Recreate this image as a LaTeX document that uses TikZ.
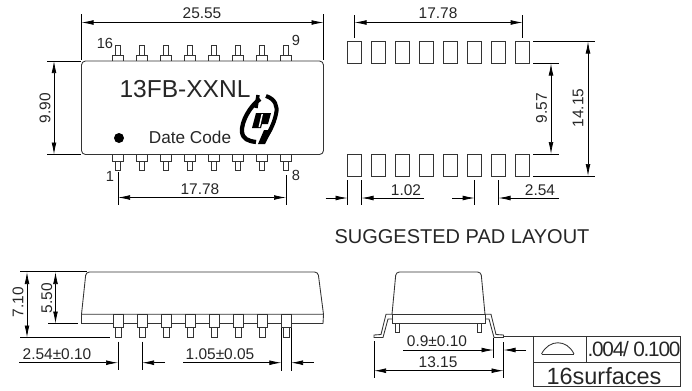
\documentclass[tikz,border=0pt]{standalone}
\usepackage{fontspec}
\setmainfont{Liberation Sans}
\newfontfamily\tightfont[LetterSpace=-6]{Liberation Sans}
\usetikzlibrary{arrows.meta}
\tikzset{
  outline/.style={draw=black!80,line width=0.65pt},
  dimline/.style={draw=black,line width=0.55pt},
  dimarrow/.style={dimline,{Latex[length=9pt,width=3.6pt]}-{Latex[length=9pt,width=3.6pt]}},
  dimin/.style={dimline,-{Latex[length=9pt,width=3.6pt]}},
  dimtext/.style={inner sep=0pt,font=\fontsize{11.6}{12}\selectfont,text=black!85},
  vertext/.style={dimtext,rotate=90},
  pinlabel/.style={inner sep=0pt,font=\fontsize{11}{12}\selectfont,text=black!85}
}
\begin{document}
\begin{tikzpicture}[x=0.75pt,y=-0.75pt]
\useasboundingbox (0,0) rectangle (692,390);
% top view
\draw[outline,rounded corners=3pt] (81.5,61) rectangle (323.5,154.5);
\foreach \i/\x in {1/118,2/142,3/166,4/190,5/214,6/238,7/262,8/286} {
    \draw[outline] (\x-5.5,61) -- (\x-5.5,55) -- (\x+5.5,55) -- (\x+5.5,61);
    \draw[outline] (\x-2.9,55) -- (\x-2.9,45) -- (\x+2.9,45) -- (\x+2.9,55);
    \draw[outline] (\x-5.5,154.5) -- (\x-5.5,161) -- (\x+5.5,161) -- (\x+5.5,154.5);
    \draw[outline] (\x-2.9,161) -- (\x-2.9,170) -- (\x+2.9,170) -- (\x+2.9,161);
}
\node[inner sep=0pt,font=\fontsize{18.4}{20}\selectfont,text=black!85] (partno) at (185,89) {13FB-XXNL};
\node[inner sep=0pt,font=\fontsize{12.9}{14}\selectfont,text=black!85] (datecode) at (190,137) {Date Code};
\fill[black] (119,138) circle (5);
% logo
\draw[line width=3.2pt] (260,99) .. controls (250,106) and (241,122) .. (242,132) .. controls (243,139) and (248,141) .. (256,142);
\draw[line width=3pt] (266,96) .. controls (275,99) and (278,106) .. (276,114) .. controls (274,124) and (268,136) .. (262,141);
\draw[line width=2.6pt] (258,95) -- (256,108);
\fill[black] (256,113) -- (271,113) -- (268,124) -- (262,124) -- (261,128) -- (252,128) -- cycle;
\fill[black] (264,130) -- (272,130) -- (265,144) -- (258,144) -- cycle;
\fill[white] (261.5,114) -- (258.5,127) -- (260,127) -- (263,114) -- cycle;
% top view dimensions
\node[dimtext] (topw) at (202,13) {25.55};
\coordinate (bl) at (81.5,22.5);
\coordinate (br) at (323.5,22.5);
\draw[dimline] (81.5,14) -- (81.5,60);
\draw[dimline] (323.5,14) -- (323.5,60);
\draw[dimarrow] (bl) -- (br);
\node[vertext] (toph) at (45,108) {9.90};
\coordinate (bt) at (54,61);
\coordinate (bb) at (54,154.5);
\draw[dimline] (47,61) -- (81,61);
\draw[dimline] (47,154.5) -- (81,154.5);
\draw[dimarrow] (bt) -- (bb);
\node[dimtext] (pitch) at (200,189) {17.78};
\coordinate (pl) at (118,197.5);
\coordinate (pr) at (286,197.5);
\draw[dimline] (118,172) -- (118,205);
\draw[dimline] (286,175) -- (286,205);
\draw[dimarrow] (pl) -- (pr);
\node[pinlabel] (pin1) at (110,176) {1};
\node[pinlabel] (pin8) at (296,175) {8};
\node[pinlabel] (pin16) at (105,43) {16};
\node[pinlabel] (pin9) at (296,40) {9};
% pad layout
\foreach \i/\x in {1/347.5,2/371.5,3/395.5,4/419.5,5/443.5,6/467.5,7/491.5,8/515.5} {
    \draw[outline] (\x,41.5) rectangle (\x+14.3,63.5);
    \draw[outline] (\x,154) rectangle (\x+14.3,176);
}
\node[dimtext] (padw) at (438,13) {17.78};
\coordinate (al) at (354.5,22.5);
\coordinate (ar) at (522.7,22.5);
\draw[dimline] (354.5,15) -- (354.5,38);
\draw[dimline] (522.7,15) -- (522.7,38);
\draw[dimarrow] (al) -- (ar);
\draw[dimline] (533,41.5) -- (595,41.5);
\draw[dimline] (533,63.5) -- (559,63.5);
\draw[dimline] (533,154) -- (559,154);
\draw[dimline] (533,176) -- (595,176);
\node[vertext] (padin) at (541.5,108) {9.57};
\coordinate (ct) at (551,63.5);
\coordinate (cb) at (551,154);
\draw[dimarrow] (ct) -- (cb);
\node[vertext] (padout) at (578,108) {14.15};
\coordinate (dt) at (588,41.5);
\coordinate (db) at (588,176);
\draw[dimarrow] (dt) -- (db);
\draw[dimline] (347.5,180) -- (347.5,205);
\draw[dimline] (361.5,180) -- (361.5,205);
\draw[dimin] (325.5,198) -- (347.5,198);
\draw[dimin] (424,198) -- (361.5,198);
\node[dimtext] (padsize) at (406,190) {1.02};
\draw[dimline] (474.7,180) -- (474.7,205);
\draw[dimline] (498.5,180) -- (498.5,205);
\draw[dimin] (452,198) -- (474.7,198);
\draw[dimin] (559,198) -- (498.5,198);
\node[dimtext] (padpitch) at (540,190) {2.54};
\node[inner sep=0pt,font=\fontsize{15}{16}\selectfont,text=black!85] (padtitle) at (462,237) {SUGGESTED PAD LAYOUT};
% side view
\draw[outline,rounded corners=2.5pt] (81.5,314.3) -- (86,272) -- (318,272) -- (323.5,314.3);
\draw[outline] (81.5,314.3) -- (323.5,314.3) -- (323,323.5) -- (81.5,323.5) -- cycle;
\foreach \i/\x in {1/118,2/142,3/166,4/190,5/214,6/238,7/262,8/286} {
    \draw[outline,fill=white] (\x-5,314.3) rectangle (\x+5,327.7);
    \draw[outline] (\x-3,327.7) -- (\x-3,337.5) -- (\x+3,337.5) -- (\x+3,327.7);
}
\node[vertext] (sideh) at (18,302) {7.10};
\coordinate (et) at (27,272);
\coordinate (eb) at (27,337.5);
\draw[dimline] (20,271.7) -- (87,271.7);
\draw[dimline] (20,337.5) -- (110,337.5);
\draw[dimarrow] (et) -- (eb);
\node[vertext] (bodyh) at (46.7,298) {5.50};
\coordinate (ft) at (55.5,272);
\coordinate (fb) at (55.5,323.5);
\draw[dimline] (48,323.5) -- (78,323.5);
\draw[dimarrow] (ft) -- (fb);
\node[dimtext] (sidepitch) at (57,354) {2.54±0.10};
\draw[dimline] (118,341.5) -- (118,370);
\draw[dimline] (142,341.5) -- (142,370);
\draw[dimin] (19,362.7) -- (118,362.7);
\draw[dimin] (165,362.7) -- (142,362.7);
\node[dimtext] (sidelead) at (220,354) {1.05±0.05};
\draw[dimline] (281.3,328) -- (281.3,371);
\draw[dimline] (291,328) -- (291,371);
\draw[dimin] (183,362.7) -- (281.3,362.7);
\draw[dimin] (313.5,362.7) -- (291,362.7);
% end view
\draw[outline,rounded corners=2.5pt] (392,314.3) -- (396,272) -- (481,272) -- (485,314.3);
\draw[outline] (392,314.3) rectangle (485,323.5);
\draw[outline] (395.7,323.5) -- (395.7,332.5) -- (399.7,332.5) -- (399.7,323.5);
\draw[outline] (477.3,323.5) -- (477.3,332.5) -- (481.3,332.5) -- (481.3,323.5);
\draw[outline] (392,314.3) -- (386,314.3) -- (381,334.5) -- (374,335) -- (374,337.5) -- (383,337.5) -- (388,319) -- (392,319);
\draw[outline] (485,314.3) -- (491,314.3) -- (496,334.5) -- (503.5,335) -- (503.5,337.5) -- (494,337.5) -- (489,319) -- (485,319);
\node[dimtext] (leadw) at (437,341) {0.9±0.10};
\draw[dimline] (493.5,338) -- (493.5,358);
\draw[dimin] (403,350) -- (493.5,350);
\draw[dimin] (526,350) -- (503.5,350);
\node[dimtext] (endw) at (438,361.7) {13.15};
\coordinate (gl) at (374,370.7);
\coordinate (gr) at (503.5,370.7);
\draw[dimline] (374,341) -- (374,377.5);
\draw[dimline] (503.5,342) -- (503.5,377.5);
\draw[dimarrow] (gl) -- (gr);
% flatness box
\draw[outline] (503.5,336.7) -- (533,336.7);
\draw[outline] (533,336.7) rectangle (680.7,386);
\draw[outline] (533,362) -- (680.7,362);
\draw[outline] (586,336.7) -- (586,362);
\draw[outline] (541.5,354) -- (574,354);
\draw[outline] (541.5,354) .. controls (549,339) and (567,339) .. (574,354);
\node[inner sep=0pt,font=\tightfont\fontsize{15.6}{16}\selectfont,text=black!85] (flat) at (634,349.5) {.004/ 0.100};
\node[inner sep=0pt,font=\fontsize{17.6}{18}\selectfont,text=black!85] (surf) at (604,376) {16surfaces};
\end{tikzpicture}
\end{document}
